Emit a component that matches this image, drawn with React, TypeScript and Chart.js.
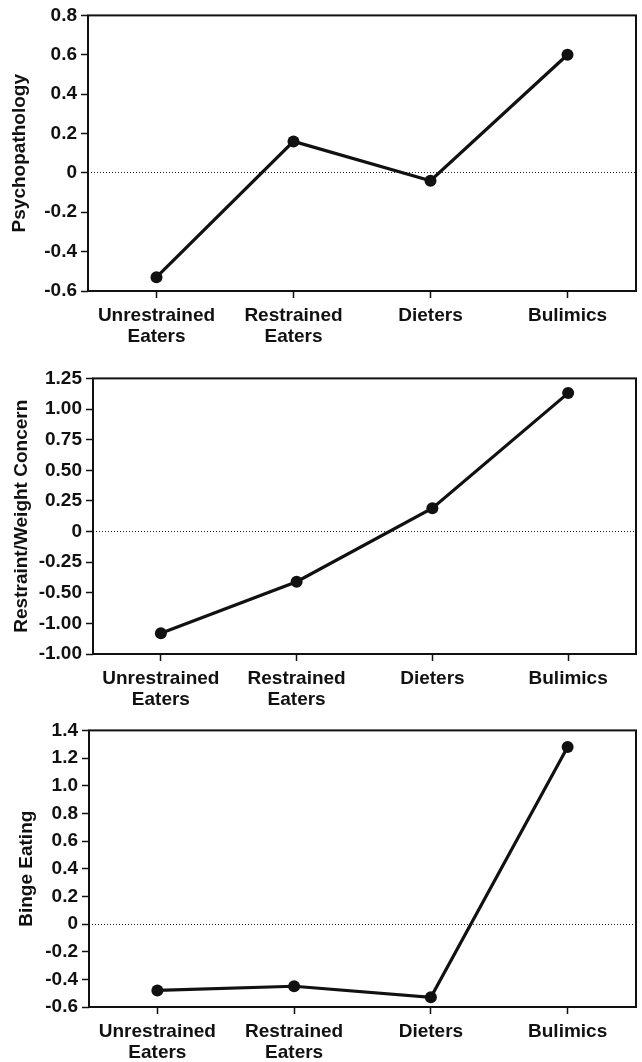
import React, { useEffect, useRef } from "react";
import { Chart, registerables } from "chart.js";

Chart.register(...registerables);

// ---- Data ----
const categories: (string | string[])[] = [
  ["Unrestrained", "Eaters"],
  ["Restrained", "Eaters"],
  "Dieters",
  "Bulimics",
];

const psychopathology = [-0.53, 0.16, -0.04, 0.6];
const restraintWeightConcern = [-0.83, -0.41, 0.19, 1.13];
const bingeEating = [-0.48, -0.45, -0.53, 1.28];

// tick labels listed from the bottom of each axis to the top (as printed)
const psychTicks = ["-0.6", "-0.4", "-0.2", "0", "0.2", "0.4", "0.6", "0.8"];
const restraintTicks = ["-1.00", "-1.00", "-0.50", "-0.25", "0", "0.25", "0.50", "0.75", "1.00", "1.25"];
const bingeTicks = ["-0.6", "-0.4", "-0.2", "0", "0.2", "0.4", "0.6", "0.8", "1.0", "1.2", "1.4"];

const yTitles = ["Psychopathology", "Restraint/Weight Concern", "Binge Eating"];

// ---- Layout / style ----
const FONT = "'Liberation Sans', Arial, Helvetica, sans-serif";
const CANVAS_W = 642;
const CANVAS_H = 362;
const PLOT_TOP = 15;

type PanelCfg = {
  title: string;
  values: number[];
  tickLabels: string[];
  min: number;
  max: number;
  step: number;
  top: number;
  yWidth: number;
  titlePad: number;
  plotH: number;
};

const panels: PanelCfg[] = [
  { title: yTitles[0], values: psychopathology, tickLabels: psychTicks, min: -0.6, max: 0.8, step: 0.2, top: 0, yWidth: 88, titlePad: 8, plotH: 276 },
  { title: yTitles[1], values: restraintWeightConcern, tickLabels: restraintTicks, min: -1.0, max: 1.25, step: 0.25, top: 363, yWidth: 93, titlePad: 10, plotH: 276 },
  { title: yTitles[2], values: bingeEating, tickLabels: bingeTicks, min: -0.6, max: 1.4, step: 0.2, top: 715, yWidth: 89, titlePad: 15, plotH: 277 },
];

const framePlugin = {
  id: "frame",
  beforeDatasetsDraw(chart: any) {
    const { ctx, chartArea } = chart;
    ctx.save();
    ctx.strokeStyle = "#111";
    ctx.lineWidth = 2;
    ctx.strokeRect(chartArea.left, chartArea.top, chartArea.right - chartArea.left, chartArea.bottom - chartArea.top);
    ctx.restore();
  },
};

function Panel({ cfg }: { cfg: PanelCfg }) {
  const ref = useRef<HTMLCanvasElement | null>(null);
  useEffect(() => {
    if (!ref.current) return;
    const chart = new Chart(ref.current, {
      type: "line",
      data: {
        labels: categories as any,
        datasets: [
          {
            data: cfg.values,
            borderColor: "#111",
            backgroundColor: "#111",
            borderWidth: 3.2,
            tension: 0,
            pointRadius: 6,
            pointBorderWidth: 0,
            pointBackgroundColor: "#111",
            fill: false,
          },
        ],
      },
      options: {
        responsive: false,
        animation: false,
        devicePixelRatio: 1,
        layout: { padding: { top: PLOT_TOP, right: 1, left: 0, bottom: 0 } },
        plugins: { legend: { display: false }, tooltip: { enabled: false } },
        scales: {
          x: {
            type: "category",
            offset: true,
            grid: {
              display: true,
              drawOnChartArea: false,
              drawTicks: true,
              tickLength: 7,
              tickColor: "#111",
              tickWidth: 1.5,
              offset: false,
            },
            border: { display: false },
            ticks: {
              color: "#111",
              padding: 7,
              maxRotation: 0,
              autoSkip: false,
              font: { family: FONT, size: 19, weight: "bold", lineHeight: 1.1 },
            },
            afterFit(scale: any) {
              scale.height = CANVAS_H - PLOT_TOP - cfg.plotH;
            },
          },
          y: {
            type: "linear",
            min: cfg.min,
            max: cfg.max,
            grid: {
              display: true,
              drawOnChartArea: true,
              drawTicks: true,
              tickLength: 7,
              color: (ctx: any) => (ctx.tick && Math.abs(ctx.tick.value) < 1e-9 ? "#222" : "rgba(0,0,0,0)"),
              lineWidth: 1,
              tickColor: "#111",
              tickWidth: 1.5,
            },
            border: { display: false, dash: [1, 2] },
            ticks: {
              stepSize: cfg.step,
              color: "#111",
              padding: 4,
              font: { family: FONT, size: 19, weight: "bold" },
              callback: (_v: any, i: number) => cfg.tickLabels[i],
            },
            title: {
              display: true,
              text: cfg.title,
              color: "#111",
              font: { family: FONT, size: 19, weight: "bold", lineHeight: 1.2 },
              padding: { top: cfg.titlePad, bottom: 0 },
            },
            afterFit(scale: any) {
              scale.width = cfg.yWidth;
            },
          },
        },
      },
      plugins: [framePlugin],
    } as any);
    return () => chart.destroy();
  }, [cfg]);
  return (
    <canvas
      ref={ref}
      width={CANVAS_W}
      height={CANVAS_H}
      style={{ position: "absolute", left: 0, top: cfg.top, width: CANVAS_W, height: CANVAS_H }}
    />
  );
}

export default function App() {
  return (
    <div style={{ position: "absolute", left: 0, top: 0, width: 642, height: 1062, background: "#fff", overflow: "hidden" }}>
      {panels.map((p, i) => (
        <Panel key={i} cfg={p} />
      ))}
    </div>
  );
}
